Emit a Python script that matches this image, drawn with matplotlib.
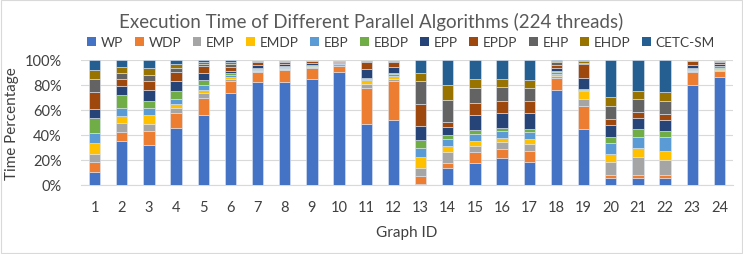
import numpy as np
import matplotlib.pyplot as plt
from matplotlib.patches import Patch, Rectangle

plt.rcParams['font.family'] = ['Lato', 'DejaVu Sans']

graphs = [str(i) for i in range(1, 25)]
series = ['WP', 'WDP', 'EMP', 'EMDP', 'EBP', 'EBDP', 'EPP', 'EPDP', 'EHP', 'EHDP', 'CETC-SM']

WP = [10.7, 35.5, 32.3, 45.6, 56.3, 73.3, 82.4, 82.7, 84.8, 90.1, 48.5, 52.3, 1.0, 13.9, 17.6, 21.6, 18.4, 76.0, 45.1, 5.3, 5.6, 5.3, 80.3, 86.4]
WDP = [7.4, 6.9, 11.2, 12.3, 13.3, 10.2, 7.7, 9.0, 8.8, 5.4, 29.1, 30.9, 6.2, 4.0, 8.5, 7.2, 8.8, 9.6, 18.4, 2.4, 2.7, 2.7, 9.8, 4.8]
EMP = [6.7, 7.2, 5.5, 3.7, 3.7, 1.0, 0.9, 0.8, 0.8, 1.0, 2.9, 1.8, 6.7, 8.2, 5.4, 5.6, 5.6, 1.9, 5.5, 11.0, 13.8, 12.0, 1.1, 0.8]
EMDP = [8.8, 5.6, 7.0, 2.9, 2.7, 1.9, 1.0, 1.1, 0.5, 0.5, 3.2, 2.2, 8.8, 5.1, 3.7, 3.5, 3.7, 1.3, 6.2, 5.8, 7.5, 7.2, 0.8, 0.8]
EBP = [8.0, 6.1, 5.9, 4.5, 4.0, 1.3, 0.8, 0.5, 0.6, 0.3, 1.1, 1.3, 6.6, 5.6, 5.9, 5.3, 5.6, 1.3, 0.8, 9.1, 8.8, 10.9, 0.8, 0.8]
EBDP = [12.3, 11.0, 5.1, 6.0, 4.0, 1.6, 1.1, 0.8, 0.5, 0.3, 1.1, 1.4, 6.4, 3.2, 2.6, 2.7, 2.9, 1.1, 0.5, 5.1, 6.6, 5.1, 0.8, 1.3]
EPP = [6.9, 6.9, 9.3, 8.2, 5.9, 2.2, 2.4, 1.9, 1.6, 0.8, 6.9, 4.2, 11.5, 6.7, 12.6, 12.0, 12.9, 2.4, 8.8, 9.3, 8.6, 8.8, 2.7, 1.6]
EPDP = [13.3, 5.8, 6.7, 6.8, 5.3, 3.2, 2.4, 1.9, 1.3, 0.8, 5.3, 4.6, 17.6, 3.7, 9.6, 9.0, 9.3, 2.4, 11.5, 5.0, 5.1, 4.8, 2.6, 1.6]
EHP = [10.7, 4.9, 5.3, 3.6, 1.8, 2.1, 0.8, 0.8, 0.6, 0.3, 1.4, 0.8, 18.4, 17.6, 12.0, 11.8, 10.4, 2.1, 1.1, 10.2, 10.1, 10.7, 0.6, 1.1]
EHDP = [7.2, 4.5, 5.3, 3.4, 1.4, 1.2, 0.2, 0.2, 0.2, 0.2, 0.3, 0.3, 6.7, 12.3, 6.9, 6.3, 6.4, 0.8, 1.6, 7.2, 6.7, 6.6, 0.2, 0.4]
CETC_SM = [8.0, 5.6, 6.4, 3.0, 1.6, 2.0, 0.3, 0.3, 0.3, 0.3, 0.2, 0.2, 10.1, 19.7, 15.2, 15.0, 16.0, 1.1, 0.5, 29.6, 24.5, 25.9, 0.3, 0.4]

colors = ['#4472C4', '#ED7D31', '#A5A5A5', '#FFC000', '#5B9BD5', '#70AD47',
          '#264478', '#9E480E', '#636363', '#997300', '#255E91']

data = np.array([WP, WDP, EMP, EMDP, EBP, EBDP, EPP, EPDP, EHP, EHDP, CETC_SM])
# percent stacked
data = data / data.sum(axis=0) * 100

fig = plt.figure(figsize=(7.43, 2.55), dpi=100)
ax = fig.add_axes([0.109, 0.2706, 0.8775, 0.4904])

x = np.arange(len(graphs))
bottom = np.zeros(len(graphs))
for i in range(len(series)):
    ax.bar(x, data[i], 0.42, bottom=bottom, color=colors[i],
           edgecolor='#dfe6f2', linewidth=0.4, zorder=3)
    bottom += data[i]

ax.set_xlim(-0.5, len(graphs) - 0.5)
ax.set_ylim(0, 100)
ax.set_yticks(np.arange(0, 101, 20))
ax.set_yticklabels([f'{v}%' for v in range(0, 101, 20)])
ax.set_xticks(x)
ax.set_xticklabels(graphs)
ax.grid(axis='y', color='#d9d9d9', linewidth=0.8, zorder=0)
for s in ['top', 'right', 'left']:
    ax.spines[s].set_visible(False)
ax.spines['bottom'].set_color('#d9d9d9')
ax.tick_params(axis='both', length=0, labelsize=10.5, colors='#404040')
ax.tick_params(axis='y', pad=14)
ax.tick_params(axis='x', pad=11)
ax.set_xlabel('Graph ID', fontsize=11, color='#404040', labelpad=8)
ax.set_ylabel('Time Percentage', fontsize=11, color='#404040', labelpad=4)

fig.text(0.5, 0.915, 'Execution Time of Different Parallel Algorithms (224 threads)',
         ha='center', va='center', fontsize=13.5, color='#595959')

handles = [Patch(facecolor=c, edgecolor='none') for c in colors]
fig.legend(handles, series, loc='center', bbox_to_anchor=(0.54, 0.83), ncol=11,
           frameon=False, fontsize=9.8, handlelength=0.65, handleheight=0.65,
           handletextpad=0.35, columnspacing=0.85, labelcolor='#404040')

# light chart-area border
fig.patches.append(Rectangle((0.001, 0.002), 0.998, 0.996, transform=fig.transFigure,
                             fill=False, edgecolor='#d9d9d9', linewidth=0.8))

fig.savefig('out.png', dpi=100)
